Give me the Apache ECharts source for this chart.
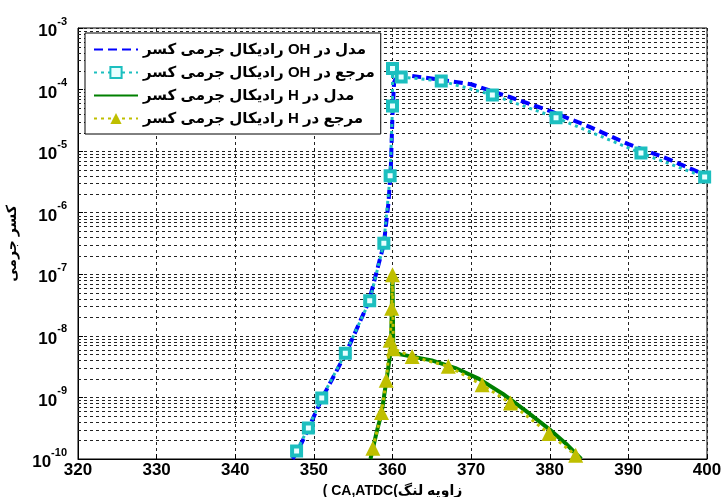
<!DOCTYPE html>
<html><head><meta charset="utf-8">
<script src="https://cdn.jsdelivr.net/npm/echarts@6/dist/echarts.min.js"></script>
<style>html,body{margin:0;padding:0;background:#fff}#c{width:721px;height:497px}</style>
</head><body><div id="c"></div>
<script>
// ---- data ----
const ohModelX = [347.3, 348, 349.3, 351, 354, 357, 358.9, 359.5, 359.8, 360.0, 360.2, 360.6, 362, 366, 370, 375, 380, 385, 390, 395, 400];
const ohModelY = [1.0e-10, 1.4e-10, 3.1e-10, 9.5e-10, 5.0e-9, 3.6e-8, 3.1e-7, 1.5e-6, 6e-6, 4e-5, 1.3e-4, 1.75e-4, 1.7e-4, 1.45e-4, 1.22e-4, 7.5e-5, 4.5e-5, 2.5e-5, 1.3e-5, 7.5e-6, 4.0e-6];
const ohRefX = [347.8, 349.3, 351.0, 354.0, 357.1, 358.9, 359.7, 360.0, 360.0, 361.1, 366.2, 372.7, 380.8, 391.6, 399.7];
const ohRefY = [1.35e-10, 3.2e-10, 9.8e-10, 5.2e-9, 3.7e-8, 3.2e-7, 4.0e-6, 5.4e-5, 2.2e-4, 1.6e-4, 1.38e-4, 8.2e-5, 3.5e-5, 9.3e-6, 3.8e-6];
const hModelX = [357.2, 358, 358.6, 359.2, 359.8, 360.0, 360.1, 361, 362.5, 365, 368, 371, 374, 377, 380, 382, 384];
const hModelY = [1e-10, 2.8e-10, 5.5e-10, 1.8e-9, 6e-9, 1e-7, 5.5e-9, 5e-9, 4.6e-9, 4e-9, 3e-9, 2e-9, 1.15e-9, 6e-10, 3e-10, 1.8e-10, 1e-10];
const hRefX = [357.5, 358.6, 359.2, 359.7, 359.9, 360.0, 360.1, 362.5, 367.1, 371.4, 375.0, 379.9, 383.3];
const hRefY = [1.5e-10, 5.7e-10, 1.9e-9, 8.5e-9, 2.8e-8, 9.8e-8, 6.2e-9, 4.6e-9, 3.2e-9, 1.6e-9, 8.1e-10, 2.6e-10, 1.15e-10];

const seriesNames = [
  'کسر جرمی رادیکال OH در مدل',
  'کسر جرمی رادیکال OH در مرجع',
  'کسر جرمی رادیکال H در مدل',
  'کسر جرمی رادیکال H در مرجع'
];
const xAxisUnit = '( CA,ATDC(';
const xAxisTitle = 'زاویه لنگ';
const yAxisName = 'کسر جرمی';
const xMin = 320, xMax = 400, xStep = 10;
const yMinExp = -10, yMaxExp = -3;
const minorFactors = [2, 3, 4, 5, 6, 7, 8, 9];

// ---- build ----
const pairs = (xs, ys) => xs.map((x, i) => [x, ys[i]]);
const minorValues = [];
for (let e = yMinExp; e < yMaxExp; e++) {
  minorFactors.forEach(f => minorValues.push(f * Math.pow(10, e)));
}
const FONT = '"Liberation Sans", Arial, "DejaVu Sans", sans-serif';
const gridDash = { color: '#222', width: 1, type: [3, 3] };
const wordTokens = s => s.split(' ').map(w => '{w|' + w + '}').join('{w| }');

const chart = echarts.init(document.getElementById('c'), null, { renderer: 'canvas' });
chart.setOption({
  animation: false,
  backgroundColor: '#fff',
  grid: { left: 78, top: 28, right: 14, bottom: 38, outerBoundsMode: 'none', containLabel: false,
    show: true, borderColor: '#000', borderWidth: 1, backgroundColor: 'transparent' },
  legend: {
    data: [
      { name: seriesNames[0], itemStyle: { opacity: 0 } },
      { name: seriesNames[1] },
      { name: seriesNames[2], itemStyle: { opacity: 0 } },
      { name: seriesNames[3] }
    ],
    orient: 'vertical',
    left: 85, top: 33,
    padding: [9, 6, 8, 8],
    itemGap: 8,
    itemWidth: 44, itemHeight: 14,
    backgroundColor: '#fff',
    borderColor: '#000', borderWidth: 1, borderRadius: 0,
    formatter: name => wordTokens(name),
    textStyle: {
      fontFamily: FONT, fontSize: 15, fontWeight: 'bold', color: '#000',
      rich: { w: { fontFamily: FONT, fontSize: 15, fontWeight: 'bold', color: '#000' } }
    }
  },
  xAxis: {
    type: 'value', min: xMin, max: xMax, interval: xStep,
    name: '{w|' + xAxisUnit + '}{w|' + xAxisTitle + '}', nameLocation: 'middle', nameGap: 17,
    nameTextStyle: { fontFamily: FONT, fontSize: 14, fontWeight: 'bold', color: '#000',
      rich: { w: { fontFamily: FONT, fontSize: 14, fontWeight: 'bold', color: '#000' } } },
    axisLine: { show: true, lineStyle: { color: '#000', width: 1 } },
    axisTick: { show: true, inside: true, length: 5, lineStyle: { color: '#000' } },
    axisLabel: { fontFamily: FONT, fontSize: 17, fontWeight: 'bold', color: '#000', margin: 3 },
    splitLine: { show: true, lineStyle: gridDash }
  },
  yAxis: {
    type: 'log', logBase: 10, min: Math.pow(10, yMinExp), max: Math.pow(10, yMaxExp), interval: 1,
    name: yAxisName, nameLocation: 'middle', nameGap: 59, nameRotate: 90,
    nameTextStyle: { fontFamily: FONT, fontSize: 14, fontWeight: 'bold', color: '#000' },
    axisLine: { show: true, lineStyle: { color: '#000', width: 1 } },
    axisTick: { show: true, inside: true, length: 5, lineStyle: { color: '#000' } },
    axisLabel: {
      margin: 11, color: '#000',
      formatter: v => '{b|10}{s|' + Math.round(Math.log10(v)) + '}',
      rich: {
        b: { fontFamily: FONT, fontSize: 17, fontWeight: 'bold', color: '#000', verticalAlign: 'bottom', lineHeight: 24 },
        s: { fontFamily: FONT, fontSize: 11, fontWeight: 'bold', color: '#000', verticalAlign: 'top', lineHeight: 24 }
      }
    },
    splitLine: { show: true, lineStyle: gridDash },
    minorTick: { show: false }
  },
  series: [
    {
      name: '__minorGrid', type: 'custom', silent: true, z: 1,
      data: minorValues.map(v => [xMin, v]),
      encode: { x: 0, y: 1 },
      renderItem: (params, api) => {
        const v = api.value(1);
        const p1 = api.coord([xMin, v]);
        const p2 = api.coord([xMax, v]);
        const y = Math.round(p1[1]) + 0.5;
        return { type: 'line', silent: true,
          shape: { x1: p1[0], y1: y, x2: p2[0], y2: y },
          style: { stroke: '#222', lineWidth: 1, lineDash: [3, 3] } };
      }
    },
    {
      name: seriesNames[0], type: 'line', data: pairs(ohModelX, ohModelY),
      showSymbol: false, symbol: 'none', z: 3,
      color: '#0000ff',
      lineStyle: { color: '#0000ff', width: 4, type: [9, 5] }
    },
    {
      name: seriesNames[1], type: 'line', data: pairs(ohRefX, ohRefY), z: 4,
      symbol: 'rect', symbolSize: 9, showSymbol: true,
      color: '#1cbfbf',
      itemStyle: { color: '#e8ffff', borderColor: '#1cbfbf', borderWidth: 4 },
      lineStyle: { color: '#1cbfbf', width: 3, type: [3, 4] }
    },
    {
      name: seriesNames[2], type: 'line', data: pairs(hModelX, hModelY), z: 5,
      showSymbol: false, symbol: 'none',
      color: '#008000',
      lineStyle: { color: '#008000', width: 4, type: 'solid' }
    },
    {
      name: seriesNames[3], type: 'line', data: pairs(hRefX, hRefY), z: 6,
      symbol: 'triangle', symbolSize: 15, showSymbol: true,
      color: '#bfbf00',
      itemStyle: { color: '#bfbf00' },
      lineStyle: { color: '#bfbf00', width: 3, type: [3, 4] }
    }
  ]
});
</script></body></html>
